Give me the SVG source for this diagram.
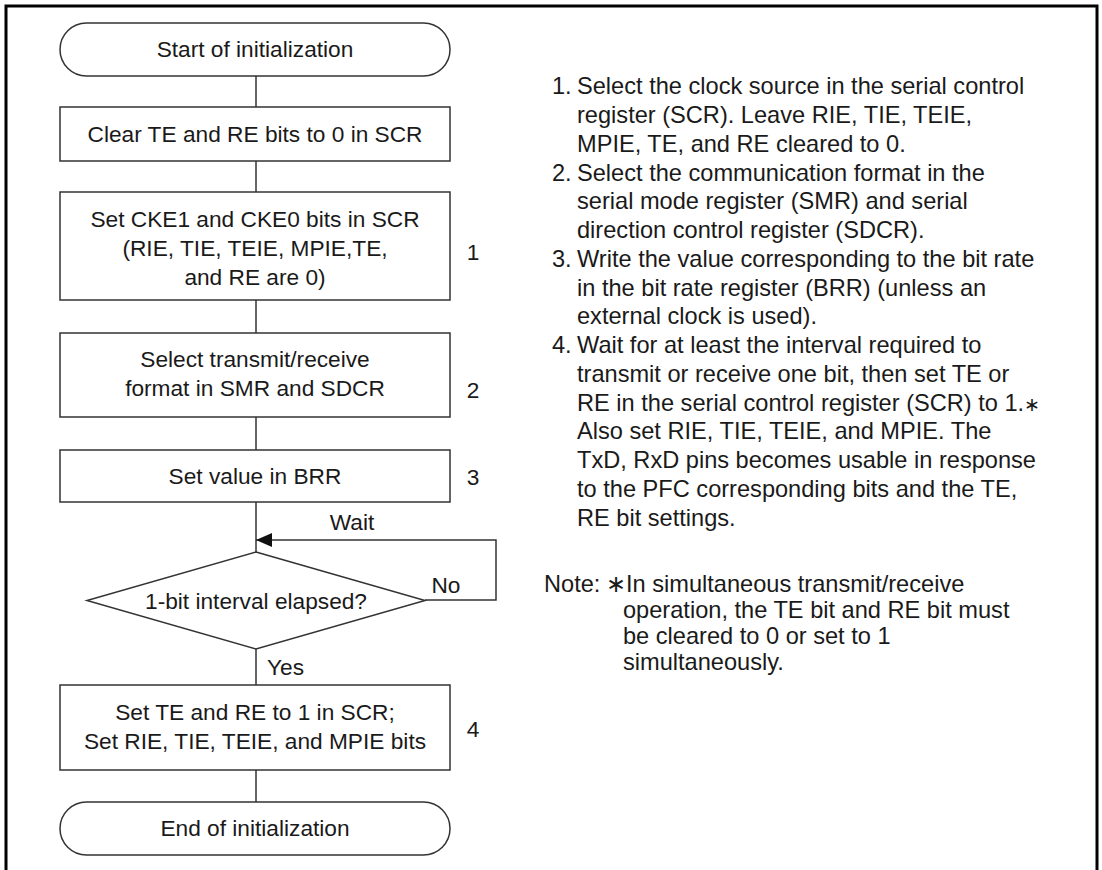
<svg xmlns="http://www.w3.org/2000/svg" width="1102" height="870" viewBox="0 0 1102 870">
<defs>
<style>
.t{font-family:"Liberation Sans",Arial,sans-serif;font-size:22.7px;fill:#1a1a1a}
.c{text-anchor:middle}
.r{font-family:"Liberation Sans",Arial,sans-serif;font-size:23.6px;fill:#1a1a1a}
.s{fill:#fff;stroke:#333;stroke-width:1.5}
.ln{fill:none;stroke:#333;stroke-width:1.5}
</style>
<marker id="ah" viewBox="0 0 16 14" refX="16" refY="7" markerWidth="16" markerHeight="14" markerUnits="userSpaceOnUse" orient="auto">
<path d="M0,0 L16,7 L0,14 Z" fill="#111"/>
</marker>
</defs>
<rect width="1102" height="870" fill="#fff"/>
<path d="M6,870 V6 H1097 V870" fill="none" stroke="#000" stroke-width="3"/>

<g id="connectors">
<path class="ln" d="M256,76 V107"/>
<path class="ln" d="M256,161 V192"/>
<path class="ln" d="M256,300 V333"/>
<path class="ln" d="M256,417 V450"/>
<path class="ln" d="M256,502 V552"/>
<path class="ln" d="M425,600 H496 V540 H256" marker-end="url(#ah)"/>
<path class="ln" d="M256,649 V685"/>
<path class="ln" d="M256,770 V802"/>
<text class="t c" x="352" y="530">Wait</text>
<text class="t c" x="446" y="593">No</text>
<text class="t" x="267" y="675">Yes</text>
</g>

<g id="start">
<rect class="s" x="60" y="23" width="390" height="53" rx="26.5"/>
<text class="t c" x="255" y="57">Start of initialization</text>
</g>
<g id="clear">
<rect class="s" x="60" y="107" width="390" height="54"/>
<text class="t c" x="255" y="142">Clear TE and RE bits to 0 in SCR</text>
</g>
<g id="setcke">
<rect class="s" x="60" y="192" width="390" height="108"/>
<text class="t c" x="255" y="227">Set CKE1 and CKE0 bits in SCR</text>
<text class="t c" x="255" y="256">(RIE, TIE, TEIE, MPIE,TE,</text>
<text class="t c" x="255" y="285">and RE are 0)</text>
<text class="t c" x="473" y="260">1</text>
</g>
<g id="format">
<rect class="s" x="60" y="333" width="390" height="84"/>
<text class="t c" x="255" y="367">Select transmit/receive</text>
<text class="t c" x="255" y="396">format in SMR and SDCR</text>
<text class="t c" x="473" y="398">2</text>
</g>
<g id="brr">
<rect class="s" x="60" y="450" width="390" height="52"/>
<text class="t c" x="255" y="484">Set value in BRR</text>
<text class="t c" x="473" y="485">3</text>
</g>
<g id="decision">
<polygon class="s" points="256,552 425,600.5 256,649 87,600.5"/>
<text class="t c" x="256" y="609">1-bit interval elapsed?</text>
</g>
<g id="sette">
<rect class="s" x="60" y="685" width="390" height="85"/>
<text class="t c" x="255" y="720">Set TE and RE to 1 in SCR;</text>
<text class="t c" x="255" y="749">Set RIE, TIE, TEIE, and MPIE bits</text>
<text class="t c" x="473" y="737">4</text>
</g>
<g id="end">
<rect class="s" x="60" y="802" width="390" height="53" rx="26.5"/>
<text class="t c" x="255" y="836">End of initialization</text>
</g>

<g id="notes">
<text class="r" x="552" y="94">1.</text>
<text class="r" x="577" y="94">Select the clock source in the serial control</text>
<text class="r" x="577" y="123">register (SCR). Leave RIE, TIE, TEIE,</text>
<text class="r" x="577" y="152">MPIE, TE, and RE cleared to 0.</text>
<text class="r" x="552" y="181">2.</text>
<text class="r" x="577" y="181">Select the communication format in the</text>
<text class="r" x="577" y="209">serial mode register (SMR) and serial</text>
<text class="r" x="577" y="238">direction control register (SDCR).</text>
<text class="r" x="552" y="267">3.</text>
<text class="r" x="577" y="267">Write the value corresponding to the bit rate</text>
<text class="r" x="577" y="296">in the bit rate register (BRR) (unless an</text>
<text class="r" x="577" y="324">external clock is used).</text>
<text class="r" x="552" y="353">4.</text>
<text class="r" x="577" y="353">Wait for at least the interval required to</text>
<text class="r" x="577" y="382">transmit or receive one bit, then set TE or</text>
<text class="r" x="577" y="411">RE in the serial control register (SCR) to 1.<tspan font-size="19">∗</tspan></text>
<text class="r" x="577" y="439">Also set RIE, TIE, TEIE, and MPIE. The</text>
<text class="r" x="577" y="468">TxD, RxD pins becomes usable in response</text>
<text class="r" x="577" y="497">to the PFC corresponding bits and the TE,</text>
<text class="r" x="577" y="526">RE bit settings.</text>
<text class="r" x="544" y="592">Note:</text>
<text class="r" x="606" y="592" font-size="19">∗</text>
<text class="r" x="626" y="592">In simultaneous transmit/receive</text>
<text class="r" x="623" y="618">operation, the TE bit and RE bit must</text>
<text class="r" x="623" y="644">be cleared to 0 or set to 1</text>
<text class="r" x="623" y="670">simultaneously.</text>
</g>
</svg>
